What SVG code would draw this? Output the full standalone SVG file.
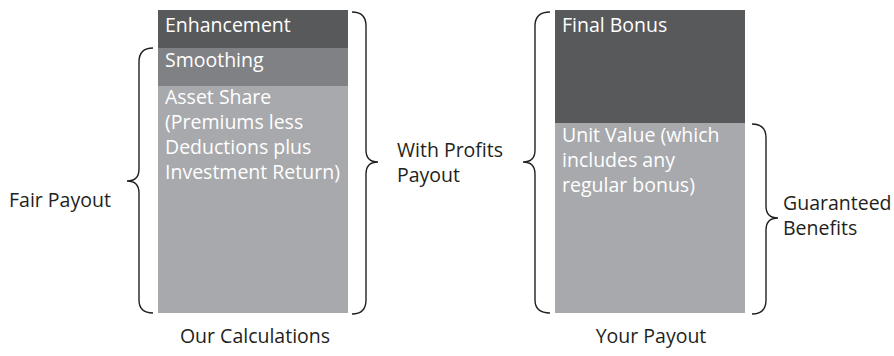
<svg xmlns="http://www.w3.org/2000/svg" width="894" height="356" viewBox="0 0 894 356">
<style>
text{font-family:"Open Sans","Noto Sans","Liberation Sans",sans-serif;font-size:19.5px}
.w{fill:#ffffff}
.k{fill:#231f20}
.brace{fill:none;stroke:#231f20;stroke-width:1.4}
</style>
<rect width="894" height="356" fill="#ffffff"/>
<g id="enhancement">
<rect x="158" y="10" width="190" height="38" fill="#58595b"/>
<text class="w" x="165" y="32">Enhancement</text>
</g>
<g id="smoothing">
<rect x="158" y="48" width="190" height="38" fill="#808184"/>
<text class="w" x="165" y="67">Smoothing</text>
</g>
<g id="asset-share">
<rect x="158" y="86" width="190" height="227" fill="#a7a9ac"/>
<text class="w" x="165" y="104">Asset Share</text>
<text class="w" x="165" y="129">(Premiums less</text>
<text class="w" x="165" y="154">Deductions plus</text>
<text class="w" x="165" y="179">Investment Return)</text>
</g>
<g id="final-bonus">
<rect x="555" y="10" width="190" height="113" fill="#58595b"/>
<text class="w" x="562" y="32">Final Bonus</text>
</g>
<g id="unit-value">
<rect x="555" y="123" width="190" height="190" fill="#a7a9ac"/>
<text class="w" x="562" y="142">Unit Value (which</text>
<text class="w" x="562" y="167">includes any</text>
<text class="w" x="562" y="192">regular bonus)</text>
</g>
<g id="labels">
<text class="k" x="9" y="207">Fair Payout</text>
<text class="k" x="397" y="157">With Profits</text>
<text class="k" x="397" y="182">Payout</text>
<text class="k" x="783" y="210">Guaranteed</text>
<text class="k" x="783" y="235">Benefits</text>
<text class="k" x="255" y="343" text-anchor="middle">Our Calculations</text>
<text class="k" x="651" y="343" text-anchor="middle">Your Payout</text>
</g>
<g id="connectors">
<path class="brace" d="M153,48 Q139,48 139,62 L139,169 Q139,181 127,181 Q139,181 139,193 L139,300 Q139,313 153,313"/>
<path class="brace" d="M352,12 Q366,12 366,26 L366,150 Q366,162 378,162 Q366,162 366,174 L366,300 Q366,314 352,314"/>
<path class="brace" d="M550,12 Q535,12 535,26 L535,150 Q535,162 523,162 Q535,162 535,174 L535,300 Q535,313 550,313"/>
<path class="brace" d="M752,124 Q766,124 766,138 L766,206 Q766,218 778,218 Q766,218 766,230 L766,300 Q766,314 752,314"/>
</g>
</svg>
